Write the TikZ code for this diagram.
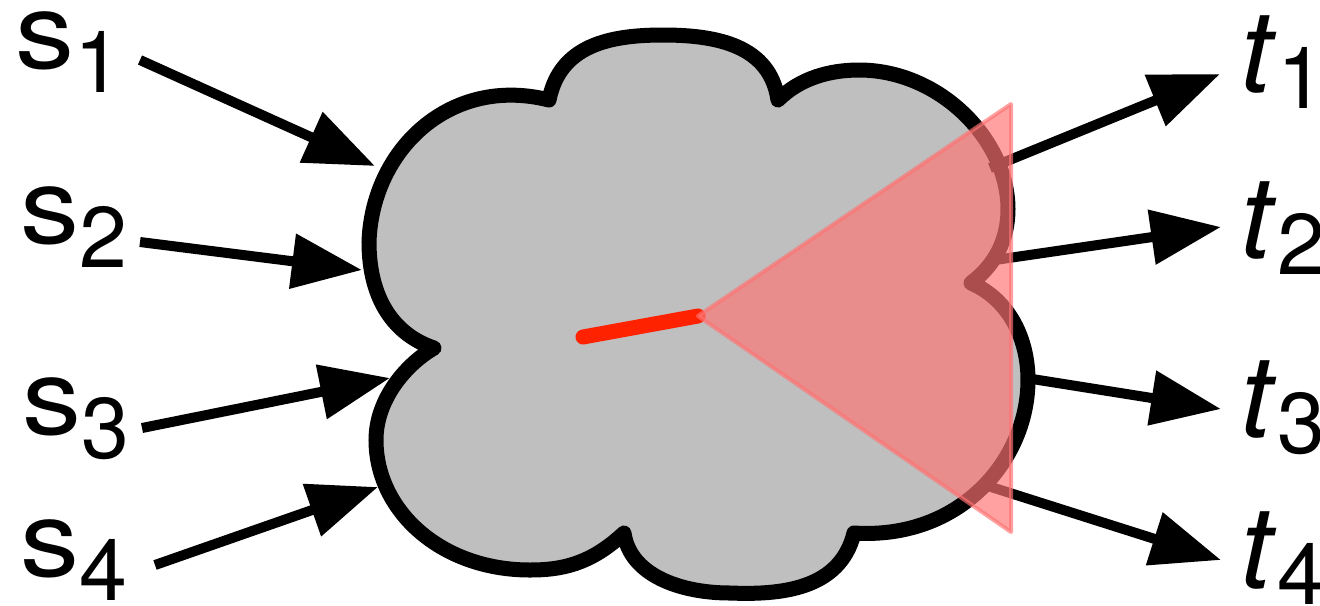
\documentclass[tikz,border=0pt]{standalone}
\usepackage{graphicx}
\usepackage{fontspec}
\setmainfont{TeX Gyre Heros}
\usetikzlibrary{arrows.meta}
\definecolor{cloudgray}{RGB}{191,191,191}
\definecolor{redline}{RGB}{255,34,0}
\definecolor{conefill}{RGB}{255,115,115}
\newcommand\slbl[1]{\scalebox{1.12}[1]{\fontsize{30}{31}\selectfont s}\raisebox{-7.1pt}{\fontsize{24.5}{25}\selectfont #1}}
\newcommand\tlbl[1]{{\fontsize{32.7}{33}\selectfont\itshape t}\kern 0.05cm\raisebox{-4.6pt}{\fontsize{24.5}{25}\selectfont #1}}
\begin{document}
\begin{tikzpicture}[x=0.01cm,y=-0.01cm,
  lbl/.style={anchor=base west, inner sep=0pt},
  arr/.style={line width=0.1cm, -{Triangle[length=0.7cm,width=0.53cm]}},
  cloud/.style={fill=cloudgray, draw=black, line width=0.15cm, line join=round},
  ray/.style={draw=redline, line width=0.15cm, line cap=round},
  cone/.style={fill=conefill, draw=conefill, opacity=0.67, line width=0.04cm, line join=round}]
\useasboundingbox (0,0) rectangle (1320,605);
% cloud
\draw[cloud] (434,348) .. controls (395,335) and (369,300) .. (369,242)
 .. controls (372,150) and (450,75) .. (549,100)
 .. controls (560,45) and (610,35) .. (663,35)
 .. controls (716,35) and (770,45) .. (778,100)
 .. controls (800,78) and (830,70) .. (859,70)
 .. controls (940,70) and (1008,140) .. (1008,209)
 .. controls (1008,240) and (995,265) .. (971,283)
 .. controls (1010,300) and (1028,340) .. (1028,380)
 .. controls (1028,460) and (960,540) .. (854,533)
 .. controls (840,590) and (780,595) .. (730,593)
 .. controls (680,593) and (630,575) .. (624,533)
 .. controls (590,565) and (560,570) .. (530,570)
 .. controls (440,570) and (376,510) .. (376,440)
 .. controls (376,400) and (405,365) .. (434,348) -- cycle;
% labels
\node (s1) [lbl] at (15,68) {\slbl{1}};
\node (s2) [lbl] at (20,243) {\slbl{2}};
\node (s3) [lbl] at (22,434) {\slbl{3}};
\node (s4) [lbl] at (20,576) {\slbl{4}};
\node (t1) [lbl] at (1240,92) {\tlbl{1}};
\node (t2) [lbl] at (1240,258) {\tlbl{2}};
\node (t3) [lbl] at (1240,437) {\tlbl{3}};
\node (t4) [lbl] at (1240,588) {\tlbl{4}};
% connector ends
\coordinate (s1a) at (140,60);   \coordinate (s1b) at (375,166);
\coordinate (s2a) at (140,242);  \coordinate (s2b) at (362,270);
\coordinate (s3a) at (142,428);  \coordinate (s3b) at (390,378);
\coordinate (s4a) at (155,565);  \coordinate (s4b) at (378,487);
\coordinate (t1a) at (990,168);  \coordinate (t1b) at (1220,74);
\coordinate (t2a) at (995,260);  \coordinate (t2b) at (1221,227);
\coordinate (t3a) at (1026,378); \coordinate (t3b) at (1221,409);
\coordinate (t4a) at (988,486);  \coordinate (t4b) at (1221,560);
\draw[arr] (s1a) -- (s1b);
\draw[arr] (s2a) -- (s2b);
\draw[arr] (s3a) -- (s3b);
\draw[arr] (s4a) -- (s4b);
\draw[arr] (t1a) -- (t1b);
\draw[arr] (t2a) -- (t2b);
\draw[arr] (t3a) -- (t3b);
\draw[arr] (t4a) -- (t4b);
% red ray and cone
\coordinate (rs) at (583,337);
\coordinate (apex) at (698,316);
\coordinate (ctop) at (1011,104);
\coordinate (cbot) at (1011,532);
\draw[ray] (rs) -- (apex);
\path[cone] (apex) -- (ctop) -- (cbot) -- cycle;
\end{tikzpicture}
\end{document}
